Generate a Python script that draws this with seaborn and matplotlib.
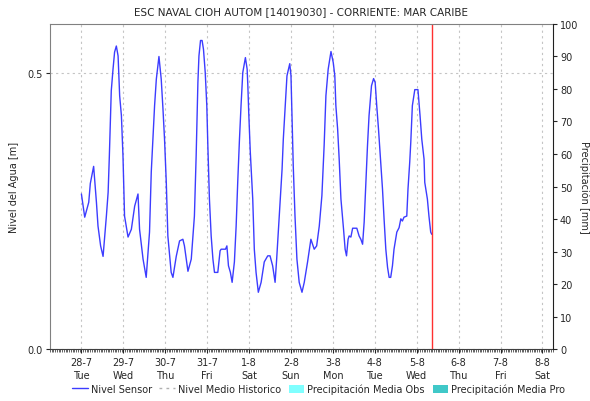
import pandas as pd
import matplotlib.pyplot as plt
import matplotlib.dates as mdates
from matplotlib.lines import Line2D
from matplotlib.patches import Patch
import seaborn as sns

# Nivel del sensor: horas desde 28-7 00:00 y nivel [m]
horas = [0.0, 1.9, 4.2, 5.1, 7.0, 8.6, 9.5, 11.0, 12.4, 14.3, 15.3, 16.0, 17.1, 18.1, 19.0, 20.0,
         21.0, 21.9, 22.9, 23.8, 24.7, 26.7, 28.6, 30.5, 32.4, 33.3, 35.3, 37.1,
         39.0, 40.0, 41.0, 41.9, 42.9, 44.4, 45.7, 46.7, 47.6, 48.6, 49.5, 51.4, 52.4,
         54.3, 56.2, 58.1, 59.0, 61.0, 62.9, 64.7, 65.7, 66.7, 67.3, 68.2, 69.1,
         69.9, 70.9, 71.8, 72.4, 73.3, 74.3, 75.3, 76.2, 78.1,
         79.4, 80.0, 82.5, 83.3, 84.2, 85.3, 86.3,
         87.6, 88.6, 89.5, 90.5, 91.4, 92.4, 93.9,
         94.9, 95.3, 95.8, 96.7, 98.1, 99.0, 100.0, 101.3,
         102.9, 104.7, 106.7, 108.0, 109.5, 110.9, 111.8, 113.3, 114.9, 115.6, 116.7, 117.7, 119.3,
         120.0, 120.4, 121.0, 121.3, 122.3, 123.4, 124.7, 126.3,
         127.6, 129.5, 131.4, 133.3, 134.7, 136.2, 137.7, 139.0, 140.0, 141.3, 142.9,
         144.2, 145.1, 145.7, 146.7, 147.6, 148.6, 150.1, 151.0, 151.8, 152.7, 153.3, 154.3,
         155.3, 157.7, 159.0, 160.0, 161.0,
         161.9, 162.9, 163.8, 164.7, 166.1, 167.3,
         168.2, 169.1, 170.1, 171.0, 172.4, 173.3, 174.3, 175.3, 176.2, 177.1,
         178.1, 179.0, 180.6, 181.9, 182.9, 183.8, 184.7, 186.3, 187.0, 188.0, 188.6, 189.5,
         190.5, 190.9, 192.7,
         193.9, 194.9, 196.2, 196.6, 198.1, 199.0, 200.0, 200.6]
nivel = [0.281, 0.239, 0.266, 0.300, 0.331, 0.266, 0.223, 0.187, 0.168, 0.241, 0.284, 0.350, 0.468, 0.507, 0.538, 0.549,
         0.531, 0.459, 0.423, 0.350, 0.241, 0.203, 0.217, 0.259, 0.281, 0.217, 0.163, 0.130,
         0.212, 0.321, 0.386, 0.441, 0.489, 0.530, 0.489, 0.435, 0.380, 0.302, 0.205, 0.139, 0.130,
         0.168, 0.196, 0.199, 0.187, 0.141, 0.163, 0.241, 0.350, 0.483, 0.531, 0.559, 0.559,
         0.543, 0.501, 0.441, 0.368, 0.272, 0.205, 0.163, 0.139, 0.139,
         0.178, 0.181, 0.181, 0.187, 0.151, 0.139, 0.121,
         0.158, 0.223, 0.302, 0.380, 0.441, 0.501, 0.528,
         0.507, 0.477, 0.429, 0.357, 0.272, 0.181, 0.139, 0.103,
         0.121, 0.158, 0.169, 0.169, 0.151, 0.121, 0.163, 0.241, 0.326, 0.380, 0.441, 0.495, 0.517,
         0.495, 0.447, 0.380, 0.332, 0.241, 0.163, 0.121, 0.103,
         0.121, 0.158, 0.199, 0.181, 0.187, 0.223, 0.278, 0.370, 0.459, 0.507, 0.539,
         0.519, 0.495, 0.441, 0.399, 0.344, 0.272, 0.217, 0.181, 0.169, 0.199, 0.205, 0.203,
         0.219, 0.219, 0.205, 0.199, 0.190,
         0.230, 0.302, 0.368, 0.423, 0.477, 0.490,
         0.483, 0.441, 0.399, 0.357, 0.290, 0.236, 0.181, 0.148, 0.130, 0.130,
         0.151, 0.181, 0.212, 0.220, 0.236, 0.232, 0.239, 0.241, 0.290, 0.339, 0.375, 0.441,
         0.462, 0.470, 0.470,
         0.423, 0.380, 0.344, 0.302, 0.272, 0.241, 0.212, 0.208]

inicio = pd.Timestamp("2020-07-28 00:00")
ahora = pd.Timestamp("2020-08-05 09:00")
dias = pd.date_range("2020-07-28", "2020-08-08", freq="D")
dia_labels = ["28-7\nTue", "29-7\nWed", "30-7\nThu", "31-7\nFri", "1-8\nSat", "2-8\nSun",
              "3-8\nMon", "4-8\nTue", "5-8\nWed", "6-8\nThu", "7-8\nFri", "8-8\nSat"]
precip_ticks = list(range(0, 101, 10))

df = pd.DataFrame({"fecha": inicio + pd.to_timedelta(horas, unit="h"), "nivel": nivel})

sns.set_style("white")
plt.rcParams["font.family"] = ["DejaVu Sans"]

fig = plt.figure(figsize=(5.9, 4.02), dpi=100)
ax = fig.add_axes([0.0847, 0.129, 0.8525, 0.809])

sns.lineplot(data=df, x="fecha", y="nivel", ax=ax, color="#3c3cff", linewidth=1.0)
ax.axvline(ahora, color="#ff3030", lw=1.0)

ax.set_xlim(pd.Timestamp("2020-07-27 06:00"), pd.Timestamp("2020-08-08 06:00"))
ax.set_ylim(0, 0.589)
ax.set_yticks([0.0, 0.5])
ax.set_yticklabels(["0.0", "0.5"], fontsize=7)
ax.set_xticks(dias)
ax.set_xticklabels(dia_labels, fontsize=7, linespacing=1.3)
ax.xaxis.set_minor_locator(mdates.HourLocator(interval=1))
ax.tick_params(axis="x", which="major", bottom=True, length=3, pad=3)
ax.tick_params(axis="x", which="minor", bottom=True, length=2, width=0.5)
ax.tick_params(axis="y", left=True, length=3, pad=2)
ax.grid(True, which="major", linestyle=(0, (2, 3)), color="#c4c4c4", linewidth=0.8)
ax.set_xlabel("")
ax.set_ylabel("Nivel del Agua [m]", fontsize=7, labelpad=6)
ax.set_title("ESC NAVAL CIOH AUTOM [14019030] - CORRIENTE: MAR CARIBE", fontsize=7.5, pad=7)
for s in ["left", "top"]:
    ax.spines[s].set_color("#808080")
ax.spines["bottom"].set_color("#404040")
ax.spines["right"].set_visible(False)

ax2 = ax.twinx()
ax2.set_ylim(0, 100)
ax2.set_yticks(precip_ticks)
ax2.set_yticklabels([str(v) for v in precip_ticks], fontsize=7)
ax2.tick_params(axis="y", right=True, length=3, pad=2)
ax2.set_ylabel("Precipitación [mm]", fontsize=7, rotation=270, labelpad=8)
for s in ["left", "top", "bottom"]:
    ax2.spines[s].set_visible(False)
ax2.spines["right"].set_color("#202020")

handles = [
    Line2D([], [], color="#3c3cff", lw=1.0),
    Line2D([], [], color="#b0b0b0", lw=1.0, linestyle=(0, (2, 3))),
    Patch(facecolor="#80ffff", edgecolor="none"),
    Patch(facecolor="#40c8c8", edgecolor="none"),
]
labels = ["Nivel Sensor", "Nivel Medio Historico", "Precipitación Media Obs", "Precipitación Media Pro"]
fig.legend(handles, labels, loc="lower center", bbox_to_anchor=(0.54, -0.005), ncol=4,
           frameon=False, fontsize=7, handlelength=1.6, handletextpad=0.3, columnspacing=0.8,
           handleheight=1.0)

fig.savefig("out.png", dpi=100)
